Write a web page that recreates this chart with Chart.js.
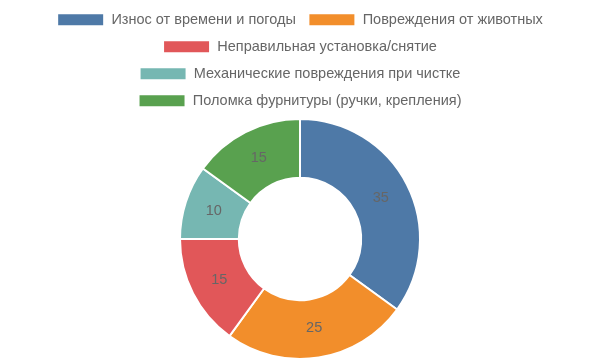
<!DOCTYPE html>
<html>
<head>
<meta charset="utf-8">
<script src="https://cdn.jsdelivr.net/npm/chart.js@4"></script>
<style>
html,body{margin:0;padding:0;background:#fff;}
#wrap{width:600px;height:360px;position:relative;}
</style>
</head>
<body>
<div id="wrap"><canvas id="c"></canvas></div>
<script>
const categories = [
  "Износ от времени и погоды",
  "Повреждения от животных",
  "Неправильная установка/снятие",
  "Механические повреждения при чистке",
  "Поломка фурнитуры (ручки, крепления)"
];
const values = [35, 25, 15, 10, 15];
const colors = ["#4e79a7", "#f28e2b", "#e15759", "#76b7b2", "#59a14f"];

const sliceLabels = {
  id: 'sliceLabels',
  afterDatasetsDraw(chart) {
    const ctx = chart.ctx;
    const meta = chart.getDatasetMeta(0);
    ctx.save();
    ctx.font = '14.5px "Liberation Sans", Arial, sans-serif';
    ctx.fillStyle = '#666666';
    ctx.textAlign = 'center';
    ctx.textBaseline = 'middle';
    meta.data.forEach((arc, i) => {
      const p = arc.tooltipPosition();
      ctx.fillText(String(chart.data.datasets[0].data[i]), p.x, p.y);
    });
    ctx.restore();
  }
};

Chart.defaults.font.family = '"Liberation Sans", Arial, sans-serif';
new Chart(document.getElementById('c'), {
  type: 'doughnut',
  data: {
    labels: categories,
    datasets: [{
      data: values,
      backgroundColor: colors,
      borderColor: '#ffffff',
      borderWidth: 2
    }]
  },
  options: {
    responsive: true,
    maintainAspectRatio: false,
    animation: false,
    cutout: '51%',
    layout: { padding: 0 },
    plugins: {
      legend: {
        position: 'top',
        labels: {
          color: '#666666',
          font: { size: 14.5 },
          boxWidth: 47,
          boxHeight: 13,
          padding: 12.5
        }
      },
      tooltip: { enabled: false }
    }
  },
  plugins: [sliceLabels]
});
</script>
</body>
</html>
